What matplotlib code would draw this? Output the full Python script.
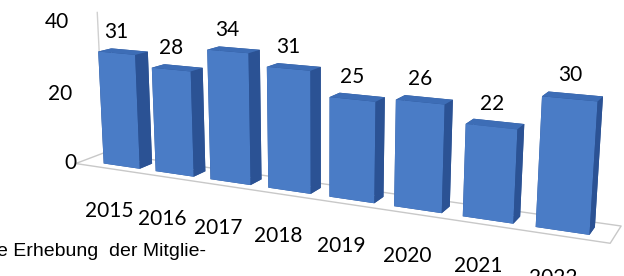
import numpy as np
import matplotlib
matplotlib.use("Agg")
import matplotlib.pyplot as plt
from matplotlib.transforms import ScaledTranslation

years = ["2015", "2016", "2017", "2018", "2019", "2020", "2021", "2022"]
values = [31, 28, 34, 31, 25, 26, 22, 30]
ticks = [0, 20, 40]

plt.rcParams["font.family"] = ["Lato", "DejaVu Sans"]

fig = plt.figure(figsize=(6.24, 2.76), dpi=100)
ax = fig.add_axes([0.01, 0.075, 1.0, 1.0], projection="3d")
ax.set_proj_type("persp", focal_length=0.7)
ax.view_init(elev=13, azim=-64)
ax.set_box_aspect((11.5, 1.0, 3.2), zoom=2.15)
ax.set_axis_off()

n = len(values)
xs = np.arange(n)
w, d = 0.7, 0.5
# face order of bar3d: bottom, top, front, back, left, right
face = ["#2d5597", "#3d6db6", "#4a7cc6", "#2d5597", "#2d5597", "#2b5294"] * n
ax.bar3d(xs, np.full(n, 0.3), np.zeros(n), w, d, values,
         color=face, shade=False, linewidth=0)

x0, x1, y0, y1 = -0.4, n, 0.0, 1.1
ax.plot([x0, x1, x1, x0, x0], [y0, y0, y1, y1, y0], [0] * 5, color="#c8c8c8", lw=1)
ax.plot([x0, x0], [y1, y1], [0, 40], color="#d0d0d0", lw=1)
ax.set_xlim(x0, x1); ax.set_ylim(y0, y1); ax.set_zlim(0, 40)

down = ax.transData + ScaledTranslation(-0.05, -0.42, fig.dpi_scale_trans)
left = ax.transData + ScaledTranslation(-0.28, -0.1, fig.dpi_scale_trans)
for i, v in enumerate(values):
    ax.text(xs[i] + w / 2, 0.3, v + 3, str(v), ha="center", va="bottom", fontsize=15)
    ax.text(xs[i] + w / 2, y0, 0, years[i], ha="center", va="center",
            fontsize=15, transform=down)
for t in ticks:
    ax.text(x0, y1, t, str(t), ha="right", va="center", fontsize=15, transform=left)

for a in ax.collections + ax.lines + ax.texts:
    a.set_clip_on(False)

fig.text(-0.005, 0.087, "e Erhebung  der Mitglie-", family="Liberation Sans",
         fontsize=14, va="center")
fig.savefig("out.png", dpi=100)
